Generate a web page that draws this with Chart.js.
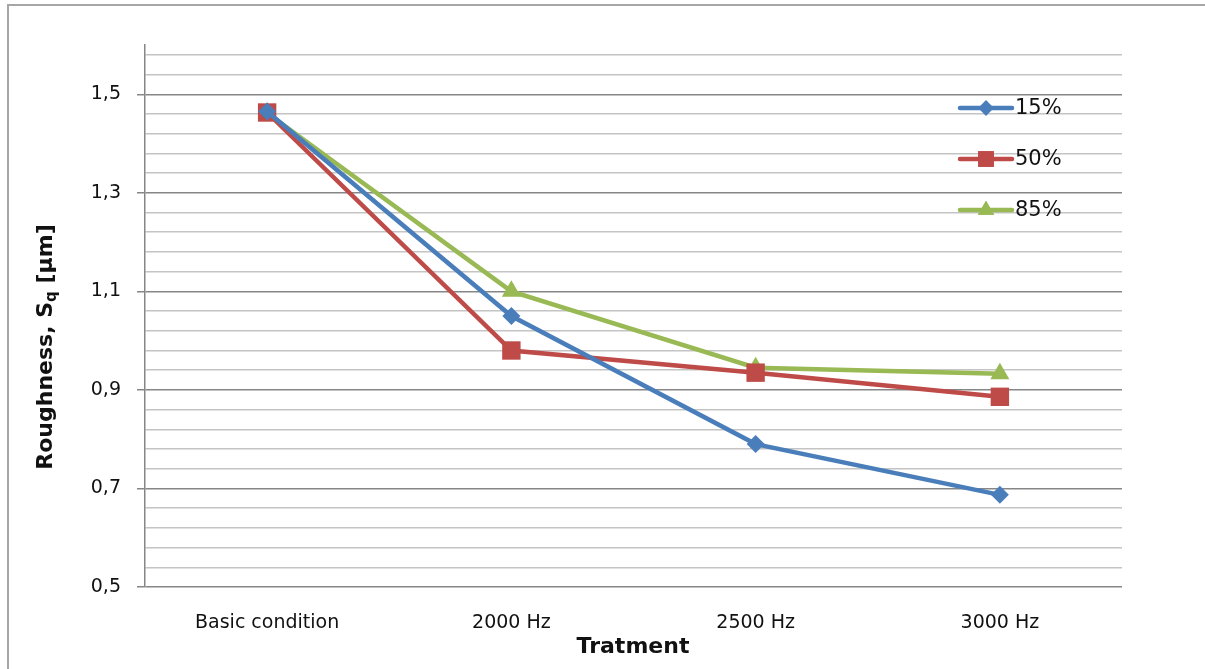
<!DOCTYPE html>
<html>
<head>
<meta charset="utf-8">
<script src="https://cdn.jsdelivr.net/npm/chart.js@4.4.0/dist/chart.umd.min.js"></script>
<style>
  html, body { margin: 0; padding: 0; background: #fff; }
  #wrap { position: relative; width: 1205px; height: 669px; overflow: hidden; }
  #frame { position: absolute; left: 7px; top: 4px; width: 1300px; height: 800px;
           border-left: 2px solid #a6a6a6; border-top: 2px solid #a6a6a6; }
  canvas { position: absolute; left: 0; top: 0; }
</style>
</head>
<body>
<div id="wrap">
  <div id="frame"></div>
  <canvas id="chart" width="1205" height="669"></canvas>
</div>
<script>
// dados
const categorias = ["Basic condition", "2000 Hz", "2500 Hz", "3000 Hz"];
const serie15 = [1.465, 1.05, 0.79, 0.687];
const serie50 = [1.463, 0.98, 0.935, 0.886];
const serie85 = [1.462, 1.10, 0.945, 0.933];
const rotulos = ["15%", "50%", "85%"];

const cores = ["#4a7ebb", "#be4b48", "#98b954"];
const marcadores = ["rectRot", "rect", "triangle"];
const raios = [9, 13, 11];

const Y_MIN = 0.5, Y_MAX = 1.6, PASSO = 0.04;
const FONTE = "'DejaVu Sans', sans-serif";

function indiceTick(v) { return Math.round((v - Y_MIN) / PASSO); }
function ehMaior(v) { return indiceTick(v) % 5 === 0; }

// legenda e títulos desenhados à mão (subscrito no título do eixo y)
const extras = {
  id: "extras",
  afterDraw(chart) {
    const ctx = chart.ctx;
    ctx.save();
    // legenda
    const ys = [108, 159, 210];
    rotulos.forEach((txt, i) => {
      const y = ys[i];
      ctx.strokeStyle = cores[i];
      ctx.lineWidth = 4.5;
      ctx.lineCap = "round";
      ctx.beginPath();
      ctx.moveTo(960, y);
      ctx.lineTo(1012, y);
      ctx.stroke();
      ctx.fillStyle = cores[i];
      Chart.helpers.drawPoint(ctx, { pointStyle: marcadores[i], radius: raios[i] * 0.85, borderWidth: 0 }, 986, y);
      ctx.fill();
      ctx.fillStyle = "#111";
      ctx.font = "21px " + FONTE;
      ctx.textAlign = "left";
      ctx.textBaseline = "middle";
      ctx.fillText(txt, 1015, y + 1);
    });
    // título x
    ctx.fillStyle = "#111";
    ctx.font = "bold 22px " + FONTE;
    ctx.textAlign = "center";
    ctx.textBaseline = "middle";
    ctx.fillText("Tratment", 633, 647);
    // título y com subscrito
    ctx.translate(46, 347);
    ctx.rotate(-Math.PI / 2);
    const p1 = "Roughness, S", p2 = "q", p3 = " [μm]";
    ctx.font = "bold 22px " + FONTE;
    const w1 = ctx.measureText(p1).width, w3 = ctx.measureText(p3).width;
    ctx.font = "bold 15px " + FONTE;
    const w2 = ctx.measureText(p2).width;
    let x = -(w1 + w2 + w3) / 2;
    ctx.textAlign = "left";
    ctx.font = "bold 22px " + FONTE;
    ctx.fillText(p1, x, 0); x += w1;
    ctx.font = "bold 15px " + FONTE;
    ctx.fillText(p2, x, 6); x += w2;
    ctx.font = "bold 22px " + FONTE;
    ctx.fillText(p3, x, 0);
    ctx.restore();
  }
};

function dataset(label, dados, i) {
  return {
    label: label,
    data: dados,
    borderColor: cores[i],
    backgroundColor: cores[i],
    borderWidth: 4.5,
    pointStyle: marcadores[i],
    pointRadius: raios[i],
    pointHoverRadius: raios[i],
    pointBorderWidth: 0,
    tension: 0
  };
}

new Chart(document.getElementById("chart"), {
  type: "line",
  data: {
    labels: categorias,
    datasets: [
      dataset(rotulos[0], serie15, 0),
      dataset(rotulos[1], serie50, 1),
      dataset(rotulos[2], serie85, 2)
    ]
  },
  plugins: [extras],
  options: {
    responsive: false,
    animation: false,
    events: [],
    layout: { padding: { left: 65, right: 83, top: 45, bottom: 0 } },
    plugins: { legend: { display: false }, tooltip: { enabled: false } },
    scales: {
      x: {
        offset: true,
        grid: { display: false, drawTicks: false, offset: true },
        border: { display: false },
        ticks: { color: "#111", font: { family: FONTE, size: 19 }, padding: 25 },
        afterFit(s) { s.height = 82; }
      },
      y: {
        min: Y_MIN,
        max: Y_MAX,
        afterFit(s) { s.width = 80; },
        afterBuildTicks(s) {
          // linhas a cada 0,04 partindo de 0,5 (como no original)
          const t = [];
          for (let i = 0; Y_MIN + i * PASSO < Y_MAX - 0.001; i++) t.push({ value: Y_MIN + i * PASSO });
          s.ticks = t;
        },
        border: { color: "#868686", width: 1.5 },
        grid: {
          color: c => {
            const v = c.tick ? c.tick.value : Y_MIN;
            return ehMaior(v) ? "#868686" : "#c4c4c4";
          },
          tickColor: c => (c.tick && ehMaior(c.tick.value) ? "#868686" : "rgba(0,0,0,0)"),
          tickLength: 8,
          lineWidth: 1.5
        },
        ticks: {
          autoSkip: false,
          padding: 16,
          color: "#111",
          font: { family: FONTE, size: 19 },
          callback: v => (ehMaior(v) ? v.toFixed(1).replace(".", ",") : "")
        }
      }
    }
  }
});
</script>
</body>
</html>
